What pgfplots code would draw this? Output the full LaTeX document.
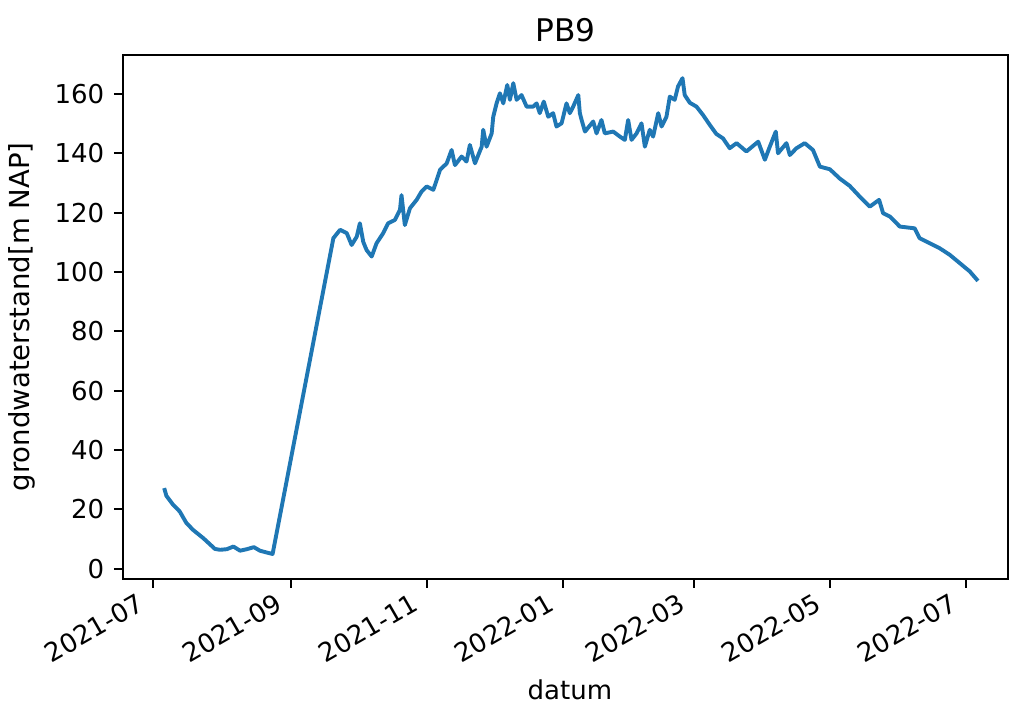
\documentclass[border=0pt]{standalone}
\usepackage{pgfplots}
\pgfplotsset{compat=1.18}
\usepackage{fontspec}
\setmainfont{DejaVu Sans}
\definecolor{mplblue}{HTML}{1F77B4}
\begin{document}
\begin{tikzpicture}
\begin{axis}[
  name=ax,
  scale only axis,
  width=340.4pt, height=201.5pt,
  xmin=-13.5, xmax=384,
  ymin=-3.4, ymax=173.1,
  axis line style={line width=0.8pt},
  tick style={line width=0.8pt, black},
  tick align=outside,
  major tick length=3.5pt,
  xtick pos=bottom, ytick pos=left,
  xtick={0,62,123,184,243,304,365},
  xticklabels={2021-07,2021-09,2021-11,2022-01,2022-03,2022-05,2022-07},
  ytick={0,20,40,60,80,100,120,140,160},
  xticklabel style={xshift=-6pt, rotate=30, anchor=north east, font=\fontsize{10}{12}\selectfont, inner sep=1pt},
  yticklabel style={font=\fontsize{10}{12}\selectfont, inner sep=1pt, xshift=-2.5pt},
  /pgf/number format/assume math mode=true,
  xlabel={datum},
  ylabel={grondwaterstand[m NAP]},
  xlabel style={font=\fontsize{10}{12}\selectfont, at={(axis description cs:0.505,-0.212)}, anchor=center},
  ylabel style={font=\fontsize{10.6}{12}\selectfont, at={(axis description cs:-0.114,0.5)}, anchor=center},
  every axis title shift=0pt,
  title={PB9},
  title style={font=\fontsize{12}{14}\selectfont, at={(axis description cs:0.5,1.048)}, anchor=center, yshift=0pt},
]
\addplot[mplblue, line width=1.5pt, line join=round] coordinates {
(5,27.2) (6,24.6) (9,21.6) (12,19.3) (15,15.4) (18,13.1) (22.6,10.3) (27.8,6.7)
(30.1,6.4) (33.1,6.6) (36.1,7.5) (39.1,6.1) (42.1,6.6) (45.3,7.3) (48,6.1) (51,5.5) (53.7,5.0)
(81,111.4) (84,114.2) (87,113.1) (89.2,109.1) (91.5,111.9) (92.9,116.4) (94.4,110.2)
(95.9,107.4) (98.2,105.2) (100.4,109.7) (103.4,113.1) (105.6,116.4) (108.6,117.5)
(110.9,120.9) (111.6,125.9) (113.1,115.8) (115.4,121.5) (118.4,124.3) (120.6,127.1)
(122.9,128.8) (125.9,127.7) (127.4,131.0) (128.9,134.4) (131.9,136.6) (134.1,141.1)
(135.6,136.0) (138.6,138.9) (140.8,137.2) (142.3,142.8) (144.6,136.6) (147.6,142.2)
(148.3,147.9) (149.8,142.2) (152.1,146.7) (152.8,152.3) (154.3,156.8) (155.8,160.2)
(157.3,156.8) (159.1,163.0) (160.3,158.0) (161.8,163.6) (163.3,158.0) (165.5,159.6)
(167.8,155.7) (170.7,155.7) (172.3,156.8) (173.7,153.5) (175.5,157.4) (177.5,152.3)
(179.7,153.5) (181.2,149.0) (183.5,150.1) (185.7,156.8) (187.2,153.5) (188.7,155.7)
(191.0,159.6) (191.7,153.5) (192.5,151.2) (194.0,147.3) (197.7,150.7) (199.2,146.7)
(201.4,151.2) (202.9,146.7) (206.7,147.3) (209.7,145.6) (211.9,144.5) (213.4,151.2)
(214.9,144.5) (217.2,146.7) (219.4,150.1) (220.9,142.2) (223.1,147.9) (224.6,145.6)
(226.9,153.5) (228.4,149.0) (230.6,152.3) (232.1,159.1) (234.3,158.0) (235.8,162.5)
(237.8,165.3) (238.8,159.6) (241.1,157.0) (244.1,155.7) (247.1,152.8) (250.1,149.5)
(253,146.5) (256.0,145.0) (259.0,141.7) (262.1,143.4) (266.5,140.6) (271.8,143.9)
(274.8,137.8) (277.0,142.2) (279.7,147.3) (280.7,140.0) (284.5,143.4) (286.0,139.4)
(289.0,141.7) (292.7,143.4) (296.4,141.1) (299.5,135.5) (304.0,134.6) (308.4,131.5)
(312.9,129.0) (317.4,125.4) (321.9,122.0) (326.1,124.3) (327.9,119.8) (330.9,118.7)
(335.4,115.3) (342.1,114.7) (344.3,111.4) (348.8,109.7) (353.3,108.0) (357.8,105.8)
(362.3,103.0) (366.8,100.2) (370.5,97.0)
};
\end{axis}
\pgfresetboundingbox
\path ([shift={(-47.3pt,-54.2pt)}]ax.south west) rectangle ([shift={(1.15pt,21.15pt)}]ax.north east);
\end{tikzpicture}
\end{document}
